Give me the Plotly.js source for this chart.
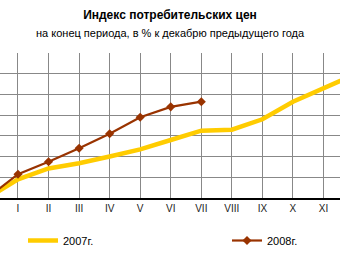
<!DOCTYPE html>
<html><head><meta charset="utf-8">
<script src="https://cdn.plot.ly/plotly-3.0.1.min.js"></script>
<style>html,body{margin:0;padding:0;background:#fff}#c{width:340px;height:255px}</style>
</head><body><div id="c"></div>
<script>
const months = [0,1,2,3,4,5,6,7,8,9,10,11,12];
const monthLabels = ['I','II','III','IV','V','VI','VII','VIII','IX','X','XI'];
const months2008 = [0,1,2,3,4,5,6,7];
const cpi2007 = [0,1.8,2.85,3.35,4.0,4.7,5.6,6.5,6.6,7.6,9.3,10.6,11.9];
const cpi2008 = [0,2.3,3.5,4.8,6.2,7.8,8.8,9.3];

const traces = [
  {x: months, y: cpi2007, name: '2007г.', mode: 'lines', legend: 'legend',
   line: {color: '#FFCC00', width: 4.5}},
  {x: months2008, y: cpi2008, name: '2008г.', mode: 'lines+markers', legend: 'legend2',
   line: {color: '#993300', width: 2.2},
   marker: {symbol: 'diamond', size: 7, color: '#993300'}}
];
const legendStyle = {font: {size: 11, color: '#000'}, bgcolor: 'rgba(0,0,0,0)',
  xanchor: 'left', yanchor: 'middle', y: (198-241)/145};
const layout = {
  width: 340, height: 255,
  margin: {l: 0, r: 0, t: 53, b: 57},
  paper_bgcolor: '#fff', plot_bgcolor: '#fff',
  font: {family: 'Liberation Sans, Arial, sans-serif', size: 10, color: '#000'},
  title: {text: '<b>Индекс потребительских цен</b>', x: 0.5, xanchor: 'center',
          y: 1 - 15/255, yanchor: 'middle', font: {size: 12, color: '#000'}},
  annotations: [{text: 'на конец периода, в % к декабрю предыдущего года',
    xref: 'paper', yref: 'paper', x: 0.5, y: 1 + (53-33)/145, xanchor: 'center', yanchor: 'middle',
    showarrow: false, font: {size: 11, color: '#000'}}],
  xaxis: {range: [0.411, 11.54], tickvals: months.slice(1,12), ticktext: monthLabels,
          showgrid: true, gridcolor: '#888', gridwidth: 1, zeroline: false,
          showline: true, linecolor: '#000', linewidth: 1.5, ticks: '',
          tickfont: {size: 10, color: '#222'}},
  yaxis: {range: [0, 14], dtick: 2, showgrid: true, gridcolor: '#888', gridwidth: 1,
          showticklabels: false, zeroline: false, showline: false, ticks: ''},
  showlegend: true,
  legend: Object.assign({x: 23/340}, legendStyle),
  legend2: Object.assign({x: 227/340}, legendStyle)
};
Plotly.newPlot('c', traces, layout, {displayModeBar: false, staticPlot: true});
</script></body></html>
